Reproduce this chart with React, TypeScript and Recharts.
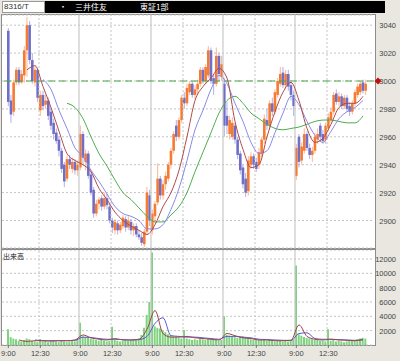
import React from 'react';
import { ComposedChart, Bar, Line, XAxis, YAxis, CartesianGrid, ReferenceLine } from 'recharts';

// 10-minute bars, 5 sessions x 27 bars (9:00-11:00, 12:30-15:00)
const opens = [
  3036, 2986, 2978, 2999, 3008, 2999, 3004, 3022, 3040, 3015, 2999, 3008, 2979, 2990, 2983, 2986, 2978, 2970, 2963, 2958, 2950, 2940, 2930, 2944, 2937, 2942, 2936,
  2938, 2962, 2942, 2948, 2933, 2922, 2905, 2912, 2916, 2910, 2916, 2910, 2900, 2893, 2898, 2893, 2896, 2901, 2895, 2899, 2893, 2896, 2890, 2888, 2883, 2892, 2918,
  2893, 2903, 2913, 2930, 2918, 2926, 2930, 2940, 2950, 2968, 2960, 2972, 2988, 2984, 2992, 2998, 2990, 2994, 2998, 3008, 3000, 3004, 3022, 3002, 2998, 3018, 3003,
  2998, 2975, 2962, 2960, 2968, 2958, 2948, 2938, 2930, 2921, 2940, 2946, 2942, 2940, 2948, 2958, 2972, 2968, 2984, 2978, 2990, 2998, 3006, 2997, 3005, 2997, 2990,
  2932, 2960, 2943, 2950, 2962, 2952, 2947, 2950, 2958, 2968, 2962, 2958, 2966, 2972, 2978, 2991, 2985, 2989, 2982, 2988, 2982, 2978, 2984, 2990, 2992, 2999, 2993,
];
const highs = [
  3038, 2990, 3001, 3010, 3010, 3008, 3025, 3046, 3043, 3020, 3010, 3009, 2993, 2993, 2990, 2988, 2981, 2973, 2966, 2960, 2952, 2942, 2946, 2947, 2945, 2944, 2943,
  2968, 2964, 2951, 2950, 2936, 2924, 2915, 2917, 2918, 2920, 2919, 2912, 2902, 2901, 2900, 2899, 2904, 2903, 2903, 2901, 2898, 2898, 2893, 2891, 2894, 2924, 2922,
  2908, 2914, 2941, 2932, 2929, 2935, 2942, 2952, 2964, 2972, 2974, 2990, 2992, 2998, 3000, 3000, 2997, 3001, 3010, 3010, 3012, 3025, 3024, 3005, 3024, 3020, 3018,
  3002, 2985, 2975, 2974, 2970, 2960, 2950, 2940, 2934, 2946, 2949, 2948, 2945, 2952, 2960, 2976, 2980, 2986, 2988, 2994, 3002, 3010, 3010, 3008, 3008, 2999, 2993,
  2955, 2962, 2956, 2966, 2964, 2955, 2953, 2963, 2966, 2970, 2965, 2970, 2977, 2981, 2992, 2994, 2992, 2991, 2990, 2990, 2985, 2986, 2994, 2998, 3000, 3001, 3001,
];
const lows = [
  2982, 2970, 2975, 2997, 2997, 2998, 2999, 3003, 3012, 2998, 2996, 2985, 2975, 2979, 2980, 2972, 2965, 2958, 2955, 2946, 2934, 2924, 2928, 2937, 2934, 2933, 2932,
  2936, 2940, 2936, 2930, 2918, 2902, 2903, 2908, 2907, 2908, 2908, 2898, 2891, 2890, 2890, 2891, 2894, 2892, 2893, 2890, 2889, 2888, 2886, 2882, 2881, 2890, 2896,
  2890, 2898, 2911, 2915, 2915, 2922, 2928, 2937, 2948, 2957, 2958, 2970, 2980, 2982, 2990, 2988, 2987, 2990, 2996, 2998, 2998, 3002, 2998, 2990, 2996, 3000, 3000,
  2960, 2962, 2958, 2958, 2955, 2944, 2933, 2923, 2917, 2918, 2937, 2937, 2935, 2937, 2945, 2955, 2965, 2965, 2975, 2976, 2988, 2996, 2995, 2994, 2993, 2986, 2975,
  2929, 2938, 2940, 2948, 2950, 2944, 2942, 2948, 2955, 2957, 2955, 2955, 2964, 2970, 2976, 2983, 2982, 2980, 2980, 2978, 2975, 2976, 2982, 2988, 2990, 2991, 2990,
];
const closes = [
  2985, 2976, 2999, 3008, 2999, 3005, 3022, 3040, 3015, 3000, 3008, 2988, 2990, 2982, 2986, 2975, 2968, 2962, 2957, 2950, 2937, 2928, 2944, 2940, 2942, 2936, 2940,
  2962, 2945, 2948, 2932, 2920, 2905, 2912, 2915, 2910, 2916, 2911, 2900, 2895, 2899, 2893, 2897, 2902, 2895, 2900, 2893, 2896, 2890, 2888, 2884, 2892, 2920, 2900,
  2905, 2912, 2930, 2918, 2926, 2932, 2940, 2950, 2962, 2960, 2972, 2988, 2984, 2995, 2998, 2990, 2994, 2998, 3008, 3000, 3010, 3022, 3000, 2998, 3018, 3005, 3012,
  2968, 2968, 2972, 2970, 2958, 2947, 2936, 2926, 2920, 2943, 2946, 2940, 2937, 2949, 2958, 2973, 2968, 2984, 2978, 2992, 3000, 3005, 2997, 3005, 2996, 2990, 2982,
  2952, 2942, 2953, 2962, 2952, 2947, 2950, 2960, 2962, 2960, 2957, 2968, 2974, 2978, 2990, 2985, 2989, 2982, 2988, 2980, 2978, 2984, 2992, 2996, 2998, 2993, 2998,
];
const volumes = [
  2200, 1100, 900, 800, 600, 500, 700, 900, 800, 600, 500, 400, 850, 500, 600, 400, 500, 600, 500, 400, 600, 500, 400, 500, 600, 500, 700,
  3100, 1200, 1100, 1000, 900, 800, 700, 600, 700, 600, 500, 600, 2550, 700, 600, 500, 600, 700, 600, 700, 800, 700, 900, 1400, 2400, 4200, 6000,
  12900, 2600, 2400, 2300, 2000, 1800, 1500, 1400, 1200, 1100, 1000, 900, 2100, 900, 800, 700, 800, 700, 900, 800, 700, 900, 800, 700, 800, 600, 700,
  4000, 1400, 1300, 1200, 1100, 1000, 1100, 1200, 1000, 900, 800, 700, 800, 700, 700, 800, 600, 700, 600, 500, 600, 700, 500, 600, 500, 700, 800,
  11100, 1500, 1300, 1100, 1000, 900, 800, 700, 700, 600, 600, 500, 2200, 600, 700, 500, 600, 500, 400, 500, 600, 700, 600, 800, 900, 1000, 900,
];

// moving averages read every 3rd bar (bar 1, 4, 7, ...)
const maShort = [null, null, 3008, 3011, 2996, 2981, 2964, 2948, 2943, 2940, 2935, 2923, 2915, 2906, 2900, 2896, 2893, 2890, 2897, 2910, 2920, 2936, 2960, 2986, 2996, 3002, 3009, 3002, 2971, 2951, 2938, 2940, 2960, 2978, 2992, 2999, 2986, 2966, 2956, 2959, 2969, 2981, 2984, 2984, 2989];
const maMid = [null, null, null, null, 3001, 2994, 2979, 2966, 2952, 2946, 2936, 2928, 2919, 2910, 2905, 2903, 2900, 2894, 2894, 2897, 2908, 2923, 2943, 2965, 2979, 2994, 3004, 2998, 2984, 2971, 2956, 2948, 2950, 2963, 2977, 2989, 2983, 2971, 2961, 2956, 2964, 2973, 2978, 2981, 2986];
const maLong = [null, null, null, null, null, null, null, 2984, 2981, 2973, 2960, 2948, 2939, 2929, 2920, 2915, 2909, 2903, 2899, 2899, 2904, 2910, 2920, 2935, 2949, 2963, 2977, 2986, 2989, 2984, 2977, 2973, 2969, 2966, 2965, 2966, 2967, 2969, 2971, 2972, 2972, 2971, 2970, 2970, 2975];
const volMaShort = [null, 700, 500, 600, 600, 550, 600, 600, 700, 1400, 1000, 800, 700, 900, 700, 700, 800, 2200, 4800, 1600, 1100, 1100, 1200, 1000, 900, 800, 700, 1600, 1300, 1000, 900, 700, 700, 600, 600, 650, 2800, 1200, 800, 700, 800, 700, 650, 600, 800];
const volMaLong = [null, null, null, 700, 600, 600, 600, 600, 650, 1100, 1050, 900, 800, 800, 750, 700, 750, 1200, 3000, 3800, 1300, 1200, 1100, 1100, 1000, 900, 800, 1200, 1200, 1100, 1000, 800, 750, 700, 650, 650, 1600, 1700, 900, 800, 800, 750, 700, 650, 700];

const timeTickIdx = [0, 12, 27, 39, 54, 66, 81, 93, 108, 120];
const timeTickText = ['9:00', '12:30', '9:00', '12:30', '9:00', '12:30', '9:00', '12:30', '9:00', '12:30'];
const dayStarts = [27, 54, 81, 108];
const noonStarts = [12, 39, 66, 93, 120];
const priceTicks = [2900, 2920, 2940, 2960, 2980, 3000, 3020, 3040];
const volTicks = [2000, 4000, 6000, 8000, 10000, 12000];
const basePrice = 3000;

const UP = '#f77a33';
const DOWN = '#6f6fc9';
const FONT = '"Liberation Sans", Arial, sans-serif';

const pick = (arr: (number | null)[], i: number) =>
  (i - 1) % 3 === 0 ? arr[(i - 1) / 3] ?? null : null;

const rows = opens.map((o, i) => ({
  i,
  open: o,
  high: highs[i],
  low: lows[i],
  close: closes[i],
  range: [lows[i], highs[i]],
  vol: volumes[i],
  ma1: pick(maShort, i),
  ma2: pick(maMid, i),
  ma3: pick(maLong, i),
  vma1: pick(volMaShort, i),
  vma2: pick(volMaLong, i),
}));

const Candle = (props: any) => {
  const { x, y, width, height, payload } = props;
  if (x == null || y == null) return <g />;
  const top = Math.min(y, y + height);
  const h = Math.abs(height);
  const span = payload.high - payload.low || 1;
  const py = (v: number) => top + ((payload.high - v) / span) * h;
  const color = payload.close >= payload.open ? UP : DOWN;
  const bTop = py(Math.max(payload.open, payload.close));
  const bBot = py(Math.min(payload.open, payload.close));
  return (
    <g>
      <rect x={x + width / 2 - 0.5} y={top} width={1} height={Math.max(h, 1)} fill={color} opacity={0.55} />
      <rect x={x} y={bTop} width={width} height={Math.max(bBot - bTop, 1)} fill={color} />
    </g>
  );
};

const RightTick = (props: any) => {
  const { y, payload } = props;
  return (
    <text x={396} y={y + 3} textAnchor="end" fontSize={7.5} fill="#444" fontFamily={FONT}>
      {payload.value}
    </text>
  );
};

// volume plot area ends 95px below the top of its svg
const TimeTick = (props: any) => {
  const { x, payload } = props;
  const k = timeTickIdx.indexOf(payload.value);
  if (k < 0) return <g />;
  return (
    <g>
      <line x1={x} x2={x} y1={95} y2={98} stroke="#777" />
      <text x={x} y={106} textAnchor="middle" fontSize={7.5} fill="#444" fontFamily={FONT}>
        {timeTickText[k]}
      </text>
    </g>
  );
};

const Diamond = (props: any) => {
  const vb = props.viewBox || {};
  const cx = (vb.x || 0) + (vb.width || 0) + 4;
  const cy = vb.y || 0;
  return <polygon points={`${cx - 3.5},${cy} ${cx},${cy - 3.5} ${cx + 3.5},${cy} ${cx},${cy + 3.5}`} fill="#c01010" />;
};

const vLines = () => [
  ...dayStarts.map((d) => (
    <ReferenceLine key={'d' + d} x={d} position="start" stroke="#c9c9c9" strokeWidth={1.2} />
  )),
  ...noonStarts.map((d) => (
    <ReferenceLine key={'n' + d} x={d} position="start" stroke="#c6c6c6" strokeDasharray="2 2" />
  )),
];

const panel = (top: number, height: number): React.CSSProperties => ({
  position: 'absolute',
  left: 1,
  top,
  width: 375,
  height,
  boxSizing: 'border-box',
  border: '1px solid #8d8d8d',
  background: '#fff',
});

export default function App() {
  return (
    <div style={{ position: 'absolute', left: 0, top: 0, width: 400, height: 361, background: '#e9e7e0', overflow: 'hidden' }}>
      <div style={{ position: 'absolute', left: 2, top: 1, width: 43, height: 12, boxSizing: 'border-box', background: '#fff', border: '1px solid #999', fontSize: 8, lineHeight: '10px', fontFamily: FONT, color: '#333', paddingLeft: 1 }}>
        8316/T
      </div>
      <div style={{ position: 'absolute', left: 45, top: 1, width: 340, height: 12, background: '#000', color: '#fff', fontFamily: '"Noto Sans CJK JP", sans-serif', fontSize: 8, lineHeight: '12px' }}>
        <span style={{ position: 'absolute', left: 14 }}>・　三井住友</span>
        <span style={{ position: 'absolute', left: 95 }}>東証1部</span>
      </div>

      <div style={panel(14, 235)} />
      <div style={panel(249, 97)} />

      <div style={{ position: 'absolute', left: 0, top: 0 }}>
        <ComposedChart width={400} height={250} data={rows} margin={{ top: 15, right: 0, bottom: 2, left: 2 }}>
          <CartesianGrid vertical={false} stroke="#c4c4c4" strokeDasharray="2 2" />
          <XAxis dataKey="i" hide padding={{ left: 5, right: 7 }} />
          <YAxis orientation="right" width={26} domain={[2880.3, 3047.3]} ticks={priceTicks} interval={0} allowDataOverflow axisLine={false} tickLine={false} tick={<RightTick />} />
          {vLines()}
          <ReferenceLine y={basePrice} stroke="#44aa44" strokeWidth={1.2} strokeDasharray="7 4" label={<Diamond />} />
          <Bar dataKey="range" barSize={2.6} shape={<Candle />} isAnimationActive={false} />
          <Line dataKey="ma3" type="monotone" stroke="#4fae4f" strokeWidth={1} dot={false} connectNulls isAnimationActive={false} />
          <Line dataKey="ma2" type="monotone" stroke="#8a8ae6" strokeWidth={1} dot={false} connectNulls isAnimationActive={false} />
          <Line dataKey="ma1" type="monotone" stroke="#b24a4a" strokeWidth={1} dot={false} connectNulls isAnimationActive={false} />
        </ComposedChart>
      </div>

      <div style={{ position: 'absolute', left: 0, top: 250 }}>
        <ComposedChart width={400} height={111} data={rows} margin={{ top: 0, right: 0, bottom: 0, left: 2 }}>
          <CartesianGrid vertical={false} stroke="#c4c4c4" strokeDasharray="2 2" />
          <XAxis dataKey="i" height={16} padding={{ left: 5, right: 7 }} interval={0} axisLine={false} tickLine={false} tick={<TimeTick />} />
          <YAxis orientation="right" width={26} domain={[0, 13250]} ticks={volTicks} interval={0} allowDataOverflow axisLine={false} tickLine={false} tick={<RightTick />} />
          {vLines()}
          <Bar dataKey="vol" barSize={2} fill="#7fd27f" isAnimationActive={false} />
          <Line dataKey="vma2" type="monotone" stroke="#5a5ad6" strokeWidth={1} dot={false} connectNulls isAnimationActive={false} />
          <Line dataKey="vma1" type="monotone" stroke="#a04848" strokeWidth={1} dot={false} connectNulls isAnimationActive={false} />
        </ComposedChart>
      </div>

      <div style={{ position: 'absolute', left: 3, top: 252, fontSize: 7, lineHeight: '8px', fontFamily: '"Noto Sans CJK JP", sans-serif', color: '#222' }}>
        出来高
      </div>
    </div>
  );
}
